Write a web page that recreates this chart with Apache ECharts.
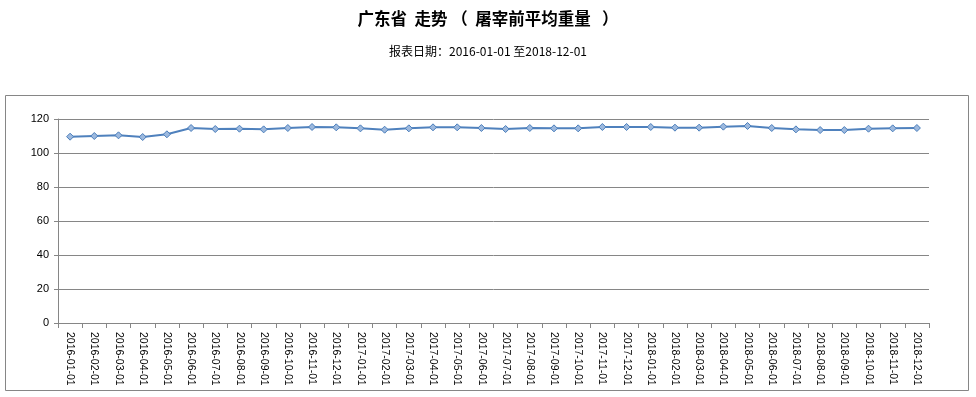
<!DOCTYPE html>
<html><head><meta charset="utf-8">
<script src="https://cdn.jsdelivr.net/npm/echarts@6/dist/echarts.min.js"></script>
<style>html,body{margin:0;padding:0;background:#fff}#c{width:976px;height:397px}</style>
</head><body><div id="c"></div>
<script>
const titleText = '广东省  走势 （  屠宰前平均重量   ）';
const subtitleText = '报表日期：2016-01-01 至2018-12-01';
const categories = [
 '2016-01-01','2016-02-01','2016-03-01','2016-04-01','2016-05-01','2016-06-01','2016-07-01','2016-08-01','2016-09-01','2016-10-01','2016-11-01','2016-12-01',
 '2017-01-01','2017-02-01','2017-03-01','2017-04-01','2017-05-01','2017-06-01','2017-07-01','2017-08-01','2017-09-01','2017-10-01','2017-11-01','2017-12-01',
 '2018-01-01','2018-02-01','2018-03-01','2018-04-01','2018-05-01','2018-06-01','2018-07-01','2018-08-01','2018-09-01','2018-10-01','2018-11-01','2018-12-01'];
const weights = [
 109.6,110.0,110.4,109.4,111.0,114.7,114.1,114.3,113.9,114.7,115.3,115.1,
 114.5,113.7,114.5,115.1,115.1,114.7,114.1,114.7,114.5,114.5,115.3,115.3,
 115.3,114.9,114.9,115.5,115.9,114.7,113.9,113.5,113.5,114.3,114.5,114.7];
const yMin = 0, yMax = 120, yStep = 20;

const chart = echarts.init(document.getElementById('c'), null, {renderer:'canvas'});
const gray = '#868686';
chart.setOption({
  animation:false,
  backgroundColor:'#fff',
  title:[
    {text:titleText,left:'center',top:5,textStyle:{fontFamily:'"Noto Sans CJK SC"',fontSize:16.5,fontWeight:'bold',color:'#000'}},
    {text:subtitleText,left:'center',top:40,textStyle:{fontFamily:'"Noto Sans CJK SC"',fontSize:12,fontWeight:'normal',color:'#000'}}
  ],
  graphic:[{type:'rect',shape:{x:5.5,y:95.5,width:963,height:295},style:{fill:'none',stroke:gray,lineWidth:1},silent:true,z:-1}],
  grid:{left:58,right:47,top:119,bottom:74,containLabel:false},
  xAxis:{type:'category',data:categories,boundaryGap:true,
    axisLine:{lineStyle:{color:gray,width:1}},
    axisTick:{show:true,length:5,lineStyle:{color:gray}},
    axisLabel:{rotate:-90,margin:9,fontFamily:'"Liberation Sans"',fontSize:10.5,color:'#000',interval:0}},
  yAxis:{type:'value',min:yMin,max:yMax,interval:yStep,
    axisLine:{show:true,lineStyle:{color:gray,width:1}},
    axisTick:{show:true,length:4,lineStyle:{color:gray}},
    axisLabel:{margin:9,fontFamily:'"Liberation Sans"',fontSize:11,color:'#000'},
    splitLine:{lineStyle:{color:gray,width:1}}},
  series:[{type:'line',data:weights,symbol:'diamond',symbolSize:7,
    lineStyle:{color:'#4F81BD',width:2},
    itemStyle:{color:'#9DB9DE',borderColor:'#4A7EBB',borderWidth:1}}]
});
</script></body></html>
